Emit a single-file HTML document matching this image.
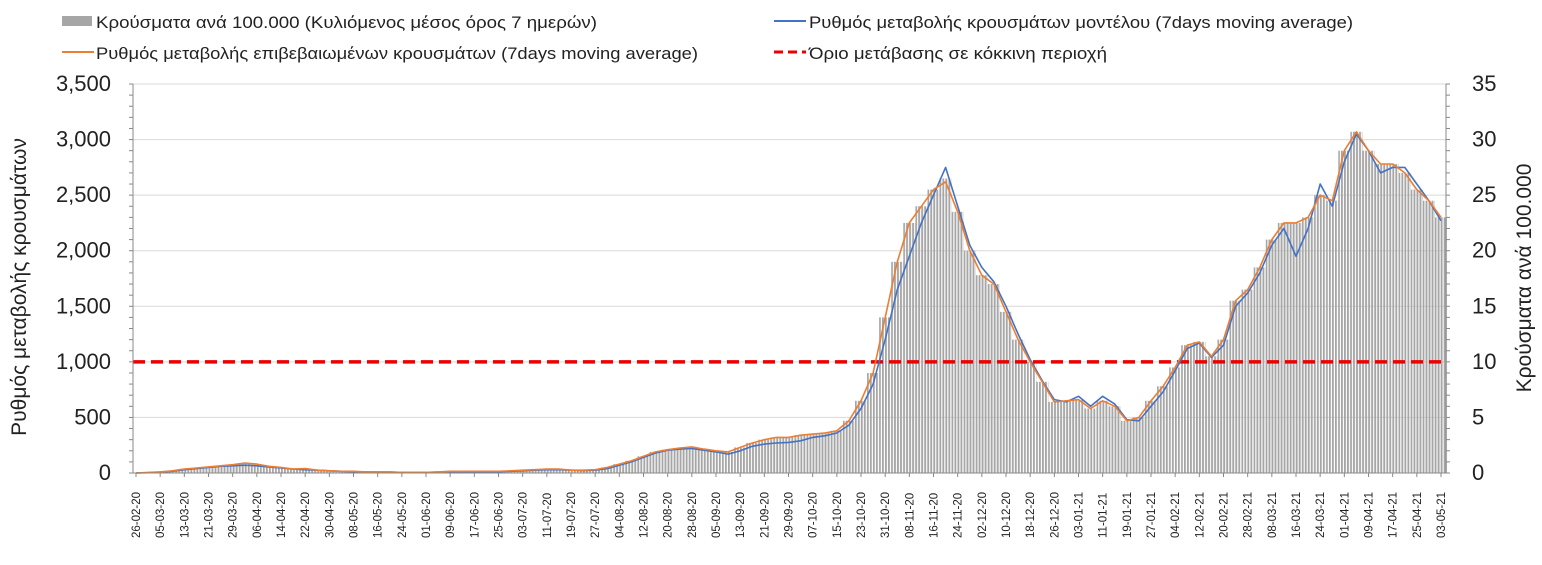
<!DOCTYPE html>
<html><head><meta charset="utf-8"><style>
body{margin:0;background:#fff;}
svg{display:block;font-family:"Liberation Sans","DejaVu Sans",sans-serif;}
</style></head><body>
<svg id="chart" width="1542" height="565" viewBox="0 0 1542 565">
<defs><pattern id="barpat" patternUnits="userSpaceOnUse" x="133" y="0" width="3.02" height="10"><rect x="0" y="0" width="1.9" height="10" fill="#a6a6a6"/></pattern></defs>
<g id="legend">
 <g><rect x="62" y="16" width="30" height="10" fill="#a6a6a6"/><text x="96" y="28" font-size="17" fill="#222" textLength="501" lengthAdjust="spacingAndGlyphs">Κρούσματα ανά 100.000 (Κυλιόμενος μέσος όρος 7 ημερών)</text></g>
 <g><line x1="774" y1="21" x2="806" y2="21" stroke="#4472c4" stroke-width="2"/><text x="809" y="28" font-size="17" fill="#222" textLength="544" lengthAdjust="spacingAndGlyphs">Ρυθμός μεταβολής κρουσμάτων μοντέλου (7days moving average)</text></g>
 <g><line x1="62" y1="52" x2="94" y2="52" stroke="#ed7d31" stroke-width="2"/><text x="96" y="59" font-size="17" fill="#222" textLength="602" lengthAdjust="spacingAndGlyphs">Ρυθμός μεταβολής επιβεβαιωμένων κρουσμάτων (7days moving average)</text></g>
 <g><line x1="774" y1="52" x2="806" y2="52" stroke="#e00" stroke-width="3" stroke-dasharray="9,5"/><text x="809" y="59" font-size="17" fill="#222" textLength="298" lengthAdjust="spacingAndGlyphs">Όριο μετάβασης σε κόκκινη περιοχή</text></g>
</g>
<g id="grid"></g><g id="bars"></g><g id="lines"></g><g id="axes"></g>
<text transform="translate(26,287) rotate(-90)" text-anchor="middle" font-size="21" fill="#222">Ρυθμός μεταβολής κρουσμάτων</text>
<text transform="translate(1531,278) rotate(-90)" text-anchor="middle" font-size="21" fill="#222">Κρούσματα ανά 100.000</text>
</svg>
<script>
const tickLabels=["26-02-20","05-03-20","13-03-20","21-03-20","29-03-20","06-04-20","14-04-20","22-04-20","30-04-20","08-05-20","16-05-20","24-05-20","01-06-20","09-06-20","17-06-20","25-06-20","03-07-20","11-07-20","19-07-20","27-07-20","04-08-20","12-08-20","20-08-20","28-08-20","05-09-20","13-09-20","21-09-20","29-09-20","07-10-20","15-10-20","23-10-20","31-10-20","08-11-20","16-11-20","24-11-20","02-12-20","10-12-20","18-12-20","26-12-20","03-01-21","11-01-21","19-01-21","27-01-21","04-02-21","12-02-21","20-02-21","28-02-21","08-03-21","16-03-21","24-03-21","01-04-21","09-04-21","17-04-21","25-04-21","03-05-21"];
const leftTicks=[0,500,1000,1500,2000,2500,3000,3500];
const rightTicks=[0,5,10,15,20,25,30,35];
const threshold=1000;
const confirmedRate=[0,5,10,20,35,45,55,65,75,90,80,60,50,35,40,25,20,15,15,10,10,10,5,5,5,10,15,15,15,15,15,20,25,30,35,35,25,25,30,50,80,110,150,190,210,225,235,215,200,190,230,270,300,320,320,340,350,360,380,470,650,900,1400,1900,2250,2400,2550,2620,2350,2000,1780,1700,1450,1200,1000,820,640,650,660,580,650,600,470,500,650,780,950,1150,1180,1050,1200,1550,1650,1850,2100,2250,2250,2300,2500,2450,2900,3070,2900,2780,2780,2700,2550,2450,2300];
const modelRate=[0,3,8,15,30,40,50,60,65,70,65,55,45,35,30,25,20,15,12,10,8,8,5,5,5,8,12,12,12,12,12,15,20,25,30,30,25,22,25,40,70,100,140,180,205,215,220,205,190,170,200,240,260,270,275,290,320,335,360,430,580,800,1200,1650,1950,2250,2500,2750,2400,2050,1850,1720,1500,1250,1020,830,660,640,690,600,690,620,480,470,600,730,920,1120,1170,1040,1150,1500,1620,1800,2050,2200,1950,2200,2600,2400,2800,3050,2900,2700,2750,2750,2600,2450,2270];
const casesPer100k=[0,0.05,0.1,0.2,0.35,0.45,0.55,0.65,0.75,0.85,0.75,0.6,0.5,0.35,0.35,0.25,0.2,0.15,0.15,0.1,0.1,0.1,0.05,0.05,0.05,0.1,0.15,0.15,0.15,0.15,0.15,0.2,0.25,0.3,0.35,0.35,0.25,0.25,0.3,0.5,0.8,1.1,1.5,1.9,2.1,2.25,2.35,2.15,2.0,1.9,2.3,2.7,3.0,3.2,3.2,3.4,3.5,3.6,3.8,4.7,6.5,9.0,14,19,22.5,24,25.5,26.5,23.5,20,17.8,17,14.5,12,10,8.2,6.4,6.5,6.6,5.8,6.5,6.0,4.7,5.0,6.5,7.8,9.5,11.5,11.8,10.5,12,15.5,16.5,18.5,21,22.5,22.5,23,25,24.5,29,30.7,29,27.8,27.8,27,25.5,24.5,23];
const step=4, totalDays=432;
const X0=136,X1=1441,Y0=473,Y1=84;
const x=d=>X0+(X1-X0)*d/totalDays;
const yl=v=>Y0-(Y0-Y1)*v/3500;
const yr=v=>Y0-(Y0-Y1)*v/35;
const NS="http://www.w3.org/2000/svg";
function mk(tag,attrs,parent){const e=document.createElementNS(NS,tag);for(const k in attrs)e.setAttribute(k,attrs[k]);parent.appendChild(e);return e;}
const grid=document.getElementById('grid'),axes=document.getElementById('axes'),bars=document.getElementById('bars'),lines=document.getElementById('lines');
leftTicks.forEach(v=>{
 const g=mk('line',{x1:133,x2:1446,y1:yl(v),y2:yl(v),stroke:'#d9d9d9','stroke-width':1},grid);
 
 
 const t=mk('text',{x:111,y:yl(v)+7,'text-anchor':'end','font-size':22,fill:'#222'},axes);t.textContent=v.toLocaleString('en-US');
 
 
});
rightTicks.forEach(v=>{
 const t=mk('text',{x:1472,y:yr(v)+7,'font-size':22,fill:'#222'},axes);t.textContent=v;
 
 
});
for(let v=0;v<=3500;v+=100){mk('line',{x1:129,x2:133,y1:yl(v),y2:yl(v),stroke:'#888'},axes);mk('line',{x1:1446,x2:1450,y1:yl(v),y2:yl(v),stroke:'#888'},axes);}
mk('line',{x1:133,x2:133,y1:Y1,y2:Y0,stroke:'#888'},axes);
mk('line',{x1:1446,x2:1446,y1:Y1,y2:Y0,stroke:'#888'},axes);
mk('line',{x1:133,x2:1446,y1:Y0,y2:Y0,stroke:'#888'},axes);
tickLabels.forEach((s,i)=>{
 const d=i*8,px=x(d);
 mk('line',{x1:px,x2:px,y1:Y0,y2:Y0+4,stroke:'#888'},axes);
 const t=mk('text',{transform:`translate(${px+4},${Y0+65}) rotate(-90)`,'font-size':11.5,fill:'#222'},axes);t.textContent=s;
 
 
});
const bw=(X1-X0)*step/totalDays;
casesPer100k.forEach((v,i)=>{
 const r=mk('rect',{x:x(i*step)-bw/2,y:yr(v),width:bw,height:Y0-yr(v),fill:'url(#barpat)'},bars);
 
 
});
const th=mk('line',{x1:133,x2:1446,y1:yl(threshold),y2:yl(threshold),stroke:'#e00','stroke-width':3.5,'stroke-dasharray':'12,6'},lines);


function path(arr,color,name){
 const d=arr.map((v,i)=>(i?'L':'M')+x(i*step).toFixed(1)+','+yl(v).toFixed(1)).join('');
 const p=mk('path',{d:d,fill:'none',stroke:color,'stroke-width':1.6,'stroke-linejoin':'round'},lines);
 
 
}
path(modelRate,'#4472c4','model-rate-line');
path(confirmedRate,'#ed7d31','confirmed-rate-line');
</script>
</body></html>
